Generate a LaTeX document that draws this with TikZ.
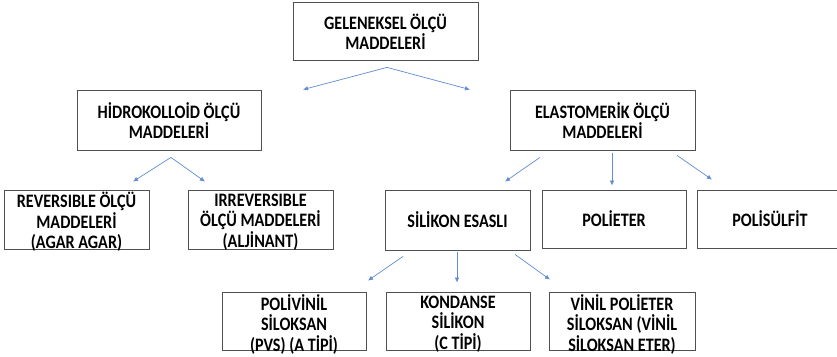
\documentclass[tikz,border=0pt]{standalone}
\usepackage{fontspec}
\setmainfont[FakeStretch=0.85]{Carlito}
\usetikzlibrary{arrows.meta,calc}
\definecolor{arrowblue}{RGB}{98,140,210}
\definecolor{boxgray}{RGB}{80,80,80}
\begin{document}
\begin{tikzpicture}[x=1pt,y=-1pt,
  box/.style={draw=boxgray,line width=0.8pt,rectangle,inner sep=0pt},
  txt/.style={inner sep=0pt,align=center,font=\fontsize{19}{20.5}\selectfont\bfseries},
  conn/.style={draw=arrowblue,line width=0.7pt,-{Latex[length=5pt,width=4.5pt]}}]
\useasboundingbox (0,0) rectangle (837,356);
\clip (0,0) rectangle (837,356);
\fill[white] (0,0) rectangle (837,356);
% boxes
\node[box,minimum width=185pt,minimum height=58pt] (top) at (385.5,31) {};
\node[box,minimum width=184pt,minimum height=60pt] (hid) at (169,120) {};
\node[box,minimum width=185pt,minimum height=60pt] (ela) at (602.5,120) {};
\node[box,minimum width=145pt,minimum height=59pt] (rev) at (76.5,219.5) {};
\node[box,minimum width=145pt,minimum height=59pt] (irr) at (260.5,219.5) {};
\node[box,minimum width=145pt,minimum height=60pt] (sil) at (457.5,220) {};
\node[box,minimum width=144pt,minimum height=58pt] (pol) at (614,219) {};
\node[box,minimum width=160pt,minimum height=58pt] (pos) at (777,219) {};
\node[box,minimum width=144pt,minimum height=58pt] (pvs) at (294,321) {};
\node[box,minimum width=144pt,minimum height=58pt] (kon) at (458,321) {};
\node[box,minimum width=146pt,minimum height=58pt] (vin) at (622,321) {};
% texts
\node[txt] (top-t) at ([yshift=-1pt]top.center) {GELENEKSEL ÖLÇÜ\\MADDELERİ};
\node[txt] (hid-t) at ([yshift=-0.5pt]hid.center) {HİDROKOLLOİD ÖLÇÜ\\MADDELERİ};
\node[txt] (ela-t) at ([yshift=-0.5pt]ela.center) {ELASTOMERİK ÖLÇÜ\\MADDELERİ};
\node[txt] (rev-t) at ([yshift=-2.5pt]rev.center) {REVERSIBLE ÖLÇÜ\\MADDELERİ\\(AGAR AGAR)};
\node[txt] (irr-t) at ([yshift=-2.5pt]irr.center) {IRREVERSIBLE\\ÖLÇÜ MADDELERİ\\(ALJİNANT)};
\node[txt] (sil-t) at (sil.center) {SİLİKON ESASLI};
\node[txt] (pol-t) at (pol.center) {POLİETER};
\node[txt] (pos-t) at (770,219) {POLİSÜLFİT};
\node[txt] (pvs-t) at ([yshift=-3pt]pvs.center) {POLİVİNİL\\SİLOKSAN\\(PVS) (A TİPİ)};
\node[txt] (kon-t) at ([yshift=-3pt]kon.center) {KONDANSE\\SİLİKON\\(C TİPİ)};
\node[txt] (vin-t) at ([yshift=-3pt]vin.center) {VİNİL POLİETER\\SİLOKSAN (VİNİL\\SİLOKSAN ETER)};
% connectors
\path[conn] ($(top.south)+(1.5,7)$) -- ($(hid.north)+(134,0)$);
\path[conn] ($(top.south)+(1.5,7)$) -- ($(ela.north)+(-132.5,0)$);
\path[conn] ($(hid.south)+(2,7)$) -- ($(rev.north)+(56.5,-8)$);
\path[conn] ($(hid.south)+(2,7)$) -- ($(irr.north)+(-55.5,-8)$);
\path[conn] ($(ela.south)+(-62.5,7)$) -- ($(sil.north)+(47.5,-8)$);
\path[conn] ($(ela.south)+(9.5,3)$) -- ($(pol.north)+(-2,-4)$);
\path[conn] ($(ela.south)+(74.5,5)$) -- ($(pos.north)+(-65,-10)$);
\path[conn] ($(sil.south)+(-54.5,6)$) -- ($(pvs.north)+(74,-11)$);
\path[conn] ($(sil.south)+(-0.5,2)$) -- ($(kon.north)+(-1,-9)$);
\path[conn] ($(sil.south)+(57.5,4)$) -- ($(vin.north)+(-72,-12)$);
\end{tikzpicture}
\end{document}
